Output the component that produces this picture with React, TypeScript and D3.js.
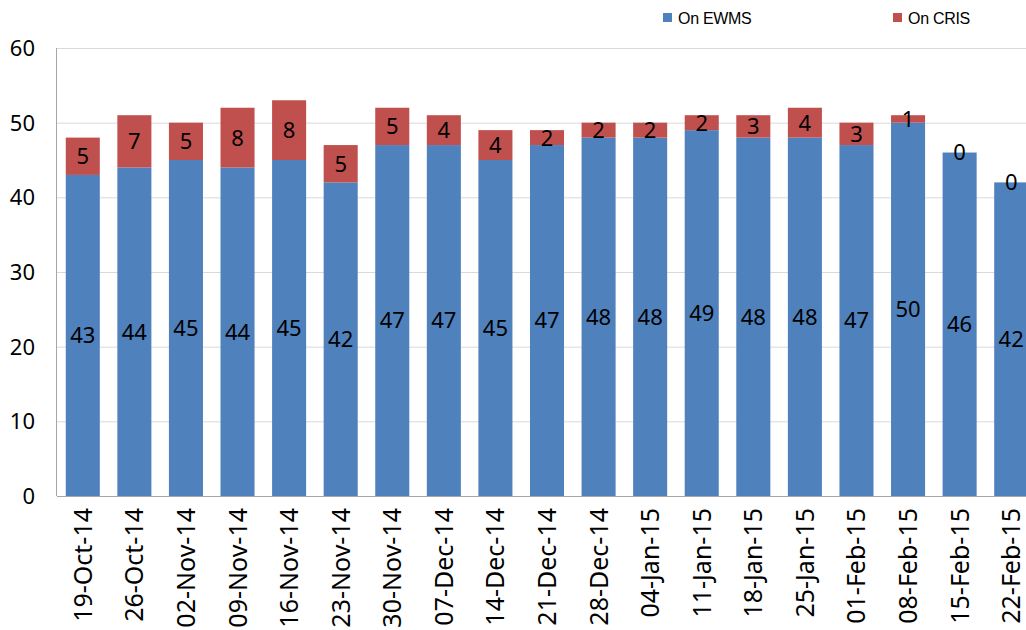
import React from 'react';
import * as d3 from 'd3';

const weeks = [
  '19-Oct-14', '26-Oct-14', '02-Nov-14', '09-Nov-14', '16-Nov-14', '23-Nov-14',
  '30-Nov-14', '07-Dec-14', '14-Dec-14', '21-Dec-14', '28-Dec-14', '04-Jan-15',
  '11-Jan-15', '18-Jan-15', '25-Jan-15', '01-Feb-15', '08-Feb-15', '15-Feb-15', '22-Feb-15',
];
const onEwms = [43, 44, 45, 44, 45, 42, 47, 47, 45, 47, 48, 48, 49, 48, 48, 47, 50, 46, 42];
const onCris = [5, 7, 5, 8, 8, 5, 5, 4, 4, 2, 2, 2, 2, 3, 4, 3, 1, 0, 0];
const yTicks = [0, 10, 20, 30, 40, 50, 60];

const seriesNames = ['On EWMS', 'On CRIS'];
const colors = ['#4f81bd', '#c0504d'];

const width = 1026;
const height = 630;
const margin = { top: 48, right: -11, bottom: 134, left: 57 };

const font = "'Noto Sans', sans-serif";

const App: React.FC = () => {
  const rows = weeks.map((w, i) => ({ week: w, ewms: onEwms[i], cris: onCris[i] }));
  const stacked = d3.stack<any>().keys(['ewms', 'cris'])(rows);

  const x = d3.scaleBand()
    .domain(weeks)
    .range([margin.left, width - margin.right])
    .paddingInner(0.34)
    .paddingOuter(0.17);

  const y = d3.scaleLinear()
    .domain([0, 60])
    .range([height - margin.bottom, margin.top]);

  const plotRight = width - margin.right;

  return (
    <div style={{ position: 'absolute', left: 0, top: 0 }}>
      <svg width={width} height={height} style={{ display: 'block', background: '#fff' }}>
        {/* grid */}
        {yTicks.filter(t => t > 0).map(t => (
          <line key={t} x1={margin.left} x2={plotRight} y1={y(t) + 0.5} y2={y(t) + 0.5}
            stroke="#d9d9d9" strokeWidth={1} />
        ))}
        {/* y tick labels */}
        {yTicks.map(t => (
          <text key={t} x={35} y={y(t)} dy="0.36em" textAnchor="end"
            fontFamily={font} fontSize={22} fill="#000">{t}</text>
        ))}
        {/* bars */}
        {stacked.map((s, si) => (
          <g key={s.key} fill={colors[si]}>
            {s.map((d, i) => (
              <rect key={i} x={x(weeks[i])} width={x.bandwidth()}
                y={y(d[1])} height={y(d[0]) - y(d[1])} />
            ))}
          </g>
        ))}
        {/* axes lines */}
        <line x1={margin.left - 0.5} x2={margin.left - 0.5} y1={y(60)} y2={y(0)} stroke="#a6a6a6" />
        <line x1={margin.left} x2={plotRight} y1={y(0) + 0.5} y2={y(0) + 0.5} stroke="#a6a6a6" />
        {/* value labels */}
        {stacked.map((s, si) => (
          <g key={'l' + s.key}>
            {s.map((d, i) => (
              <text key={i} x={(x(weeks[i]) as number) + x.bandwidth() / 2}
                y={y((d[0] + d[1]) / 2)} dy="0.36em" textAnchor="middle"
                fontFamily={font} fontSize={22} fill="#000">{d[1] - d[0]}</text>
            ))}
          </g>
        ))}
        {/* x labels */}
        {weeks.map(w => {
          const cx = (x(w) as number) + x.bandwidth() / 2;
          return (
            <text key={w} transform={`translate(${cx},${y(0) + 12}) rotate(-90)`}
              dy="0.36em" textAnchor="end" fontFamily={font} fontSize={25} fill="#000">{w}</text>
          );
        })}
        {/* legend */}
        {seriesNames.map((n, i) => {
          const lx = i === 0 ? 663 : 893;
          return (
            <g key={n}>
              <rect x={lx} y={13} width={9} height={9} fill={colors[i]} />
              <text x={lx + 15} y={18} dy="0.36em" fontFamily="'Liberation Sans', Arial, sans-serif"
                fontSize={16} letterSpacing={-0.3} fill="#000">{n}</text>
            </g>
          );
        })}
      </svg>
    </div>
  );
};

export default App;
